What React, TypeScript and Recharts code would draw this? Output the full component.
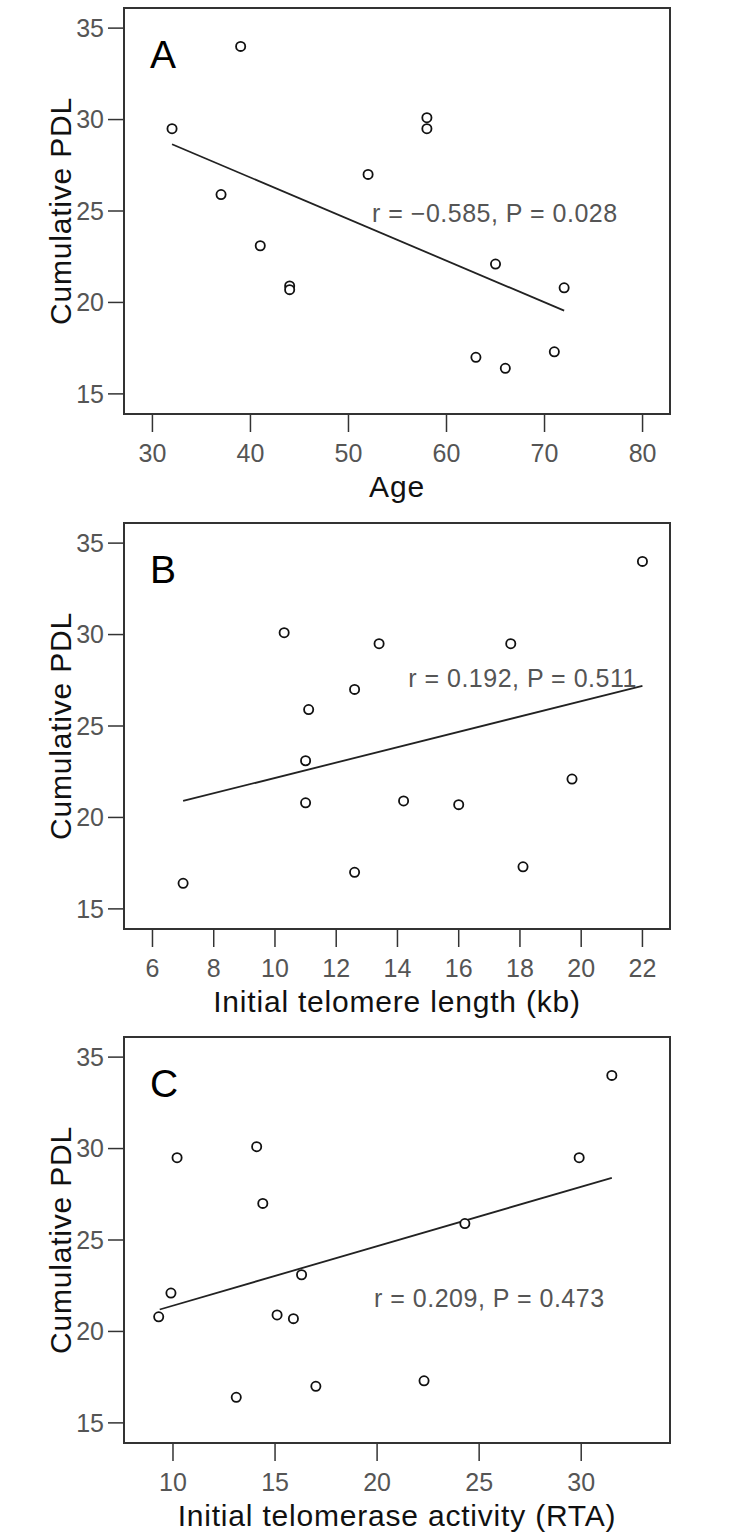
import { ScatterChart, Scatter, XAxis, YAxis, ReferenceArea, ReferenceLine, ReferenceDot } from 'recharts';

const FONT = '"Liberation Sans", Arial, sans-serif';

// y axis is the same on all three panels
const yTicks = [15, 20, 25, 30, 35];
const yDomain = [13.9, 36.1];

// A: age
const ageTicks = [30, 40, 50, 60, 70, 80];
const ageX = [32, 39, 37, 41, 44, 44, 52, 58, 58, 65, 72, 63, 66, 71];
const ageY = [29.5, 34, 25.9, 23.1, 20.9, 20.7, 27, 30.1, 29.5, 22.1, 20.8, 17.0, 16.4, 17.3];
const ageFit = [{ x: 32, y: 28.65 }, { x: 72, y: 19.55 }];
const ageNote = { x: 52.4, y: 24.9, text: 'r = \u22120.585, P = 0.028' };

// B: initial telomere length
const lengthTicks = [6, 8, 10, 12, 14, 16, 18, 20, 22];
const lengthX = [10.3, 13.4, 17.7, 22, 12.6, 11.1, 11.0, 11.0, 14.2, 16.0, 19.7, 7.0, 12.6, 18.1];
const lengthY = [30.1, 29.5, 29.5, 34, 27, 25.9, 23.1, 20.8, 20.9, 20.7, 22.1, 16.4, 17.0, 17.3];
const lengthFit = [{ x: 7, y: 20.9 }, { x: 22, y: 27.2 }];
const lengthNote = { x: 14.35, y: 27.6, text: 'r = 0.192, P = 0.511' };

// C: initial telomerase activity
const activityTicks = [10, 15, 20, 25, 30];
const activityX = [9.3, 9.9, 10.2, 13.1, 14.1, 14.4, 15.1, 15.9, 16.3, 17.0, 22.3, 24.3, 29.9, 31.5];
const activityY = [20.8, 22.1, 29.5, 16.4, 30.1, 27.0, 20.9, 20.7, 23.1, 17.0, 17.3, 25.9, 29.5, 34.0];
const activityFit = [{ x: 9.35, y: 21.2 }, { x: 31.5, y: 28.4 }];
const activityNote = { x: 19.85, y: 21.8, text: 'r = 0.209, P = 0.473' };

const toPoints = (xs: number[], ys: number[]) => xs.map((x, i) => ({ x, y: ys[i] }));

type PanelProps = {
  letter: string;
  xTitle: string;
  xDomain: number[];
  xTicks: number[];
  xs: number[];
  ys: number[];
  fit: { x: number; y: number }[];
  note: { x: number; y: number; text: string };
  height: number;
};

const tickStyle = { fontSize: 25, fill: '#555', fontFamily: FONT };
const tickLine = { stroke: '#333', strokeWidth: 1.5 };

function Panel({ letter, xTitle, xDomain, xTicks, xs, ys, fit, note, height }: PanelProps) {
  const plotH = 406;
  const axisH = 83;
  return (
    <ScatterChart
      width={734}
      height={height}
      margin={{ top: 8, right: 64, left: 20, bottom: height - 8 - plotH - axisH }}
    >
      <XAxis
        type="number"
        dataKey="x"
        domain={xDomain}
        ticks={xTicks}
        axisLine={false}
        tickLine={tickLine}
        tickSize={18}
        tickMargin={12}
        tick={tickStyle}
        height={axisH}
        label={{
          content: ({ viewBox }: any) => (
            <text
              x={viewBox.x + viewBox.width / 2}
              y={viewBox.y + viewBox.height}
              textAnchor="middle"
              fontSize={30}
              letterSpacing={0.8}
              fontFamily={FONT}
              fill="#111"
            >
              {xTitle}
            </text>
          ),
        }}
      />
      <YAxis
        type="number"
        dataKey="y"
        domain={yDomain}
        ticks={yTicks}
        axisLine={false}
        tickLine={tickLine}
        tickSize={16}
        tickMargin={4}
        tick={tickStyle}
        width={104}
        label={{
          content: ({ viewBox }: any) => {
            const cx = viewBox.x + 40;
            const cy = viewBox.y + viewBox.height / 2;
            return (
              <text
                x={cx}
                y={cy}
                dy="0.355em"
                transform={`rotate(-90 ${cx} ${cy})`}
                textAnchor="middle"
                fontSize={30}
                letterSpacing={0.8}
                fontFamily={FONT}
                fill="#111"
              >
                Cumulative PDL
              </text>
            );
          },
        }}
      />
      <ReferenceArea
        x1={xDomain[0]}
        x2={xDomain[1]}
        y1={yDomain[0]}
        y2={yDomain[1]}
        fill="none"
        stroke="#333"
        strokeWidth={2}
        ifOverflow="visible"
        label={{
          content: ({ viewBox }: any) => (
            <text x={viewBox.x + 26} y={viewBox.y + 60} fontSize={39} fontFamily={FONT} fill="#000">
              {letter}
            </text>
          ),
        }}
      />
      <ReferenceLine segment={fit} stroke="#222" strokeWidth={1.8} ifOverflow="visible" />
      <ReferenceDot
        x={note.x}
        y={note.y}
        r={0}
        fill="none"
        stroke="none"
        label={{
          content: ({ viewBox }: any) => (
            <text
              x={viewBox.x}
              y={viewBox.y}
              dy="0.355em"
              fontSize={25}
              letterSpacing={0.5}
              fontFamily={FONT}
              fill="#555"
            >
              {note.text}
            </text>
          ),
        }}
      />
      <Scatter
        data={toPoints(xs, ys)}
        isAnimationActive={false}
        shape={(p: any) => <circle cx={p.cx} cy={p.cy} r={4.6} fill="#fff" stroke="#111" strokeWidth={1.8} />}
      />
    </ScatterChart>
  );
}

export default function App() {
  return (
    <div style={{ position: 'absolute', left: 0, top: 0, width: 734, height: 1532, background: '#fff' }}>
      <Panel letter="A" xTitle="Age" xDomain={[27.1, 82.8]} xTicks={ageTicks} xs={ageX} ys={ageY} fit={ageFit} note={ageNote} height={515} />
      <Panel letter="B" xTitle="Initial telomere length (kb)" xDomain={[5.07, 22.9]} xTicks={lengthTicks} xs={lengthX} ys={lengthY} fit={lengthFit} note={lengthNote} height={514} />
      <Panel letter="C" xTitle="Initial telomerase activity (RTA)" xDomain={[7.6, 34.35]} xTicks={activityTicks} xs={activityX} ys={activityY} fit={activityFit} note={activityNote} height={503} />
    </div>
  );
}
